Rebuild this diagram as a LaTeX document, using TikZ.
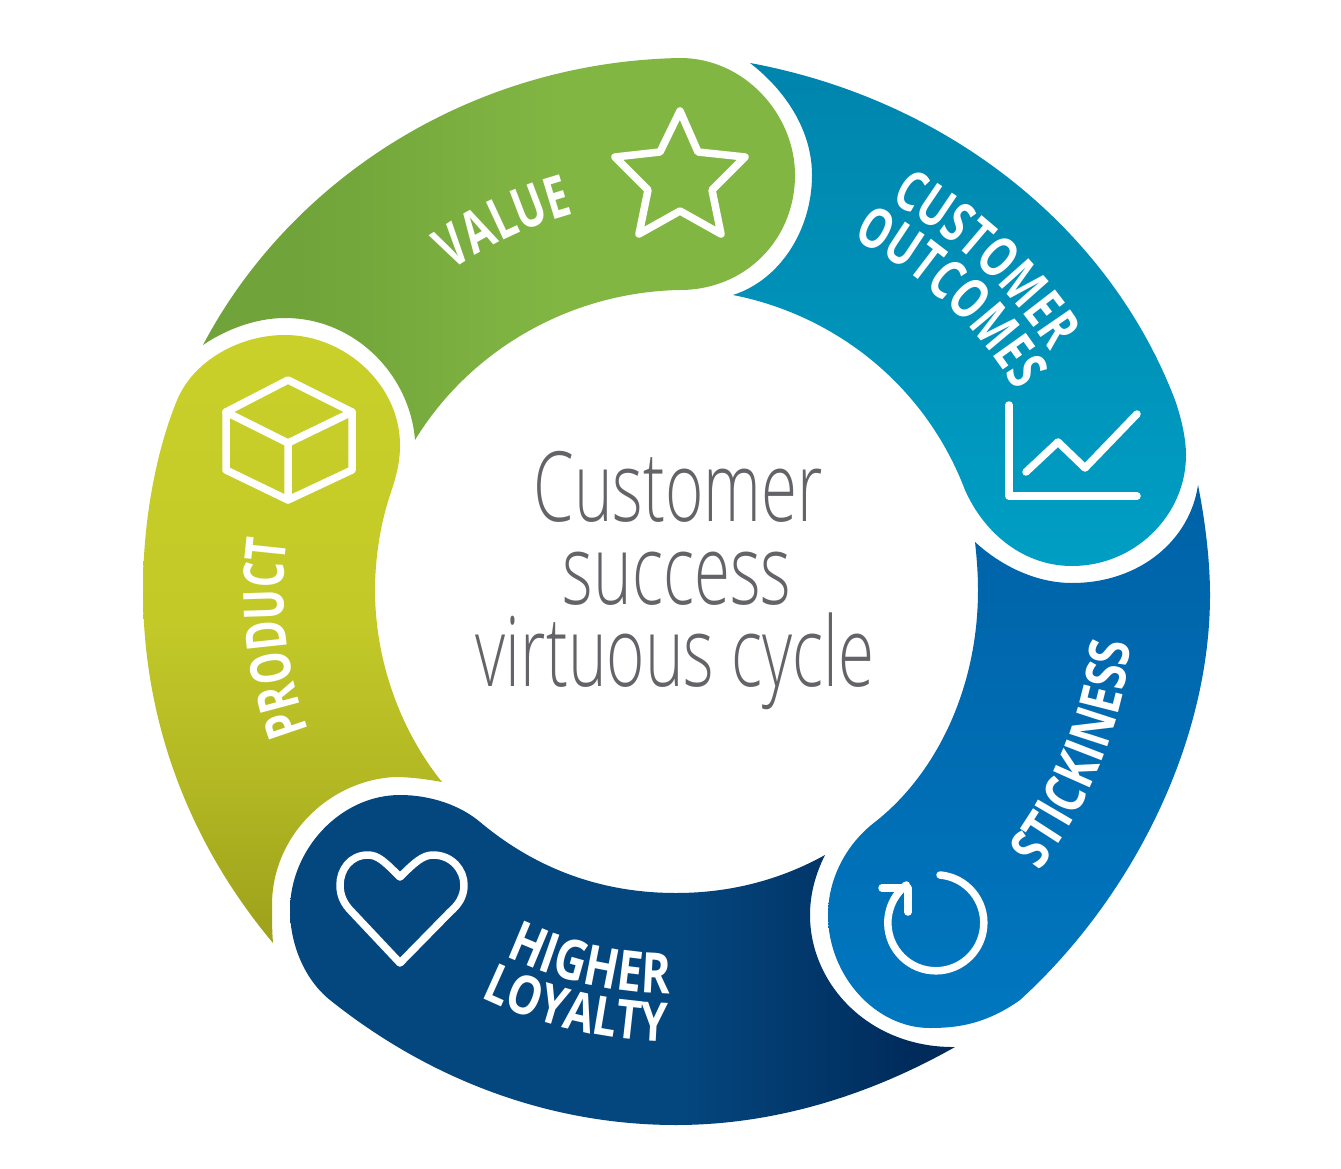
\documentclass[tikz,border=0pt]{standalone}
\usepackage{fontspec}
\usetikzlibrary{decorations.text}
\newfontfamily\ctrfont[FakeStretch=0.675]{Open Sans Light}
\newfontfamily\labfont[FakeStretch=0.72]{Open Sans}
\newfontfamily\labwide[FakeStretch=0.8]{Open Sans}
\definecolor{cvalA}{HTML}{70A339}\definecolor{cvalB}{HTML}{82B643}
\definecolor{cprodA}{HTML}{C9D029}\definecolor{cprodM}{HTML}{C3CA28}\definecolor{cprodN}{HTML}{B2B723}\definecolor{cprodB}{HTML}{9FA41C}
\definecolor{ccustA}{HTML}{0085AD}\definecolor{ccustB}{HTML}{009EC4}
\definecolor{cstickA}{HTML}{0062A7}\definecolor{cstickB}{HTML}{0077BF}
\definecolor{cloyA}{HTML}{04477F}\definecolor{cloyB}{HTML}{002B5B}
\definecolor{cctr}{HTML}{636368}
\pgfdeclarehorizontalshading{valshade}{100bp}{color(0bp)=(cvalA); color(33bp)=(cvalA); color(55bp)=(cvalB); color(100bp)=(cvalB)}
\pgfdeclarehorizontalshading{loyshade}{100bp}{color(0bp)=(cloyA); color(54bp)=(cloyA); color(72bp)=(cloyB); color(100bp)=(cloyB)}
\pgfdeclareverticalshading{prodshade}{100bp}{color(0bp)=(cprodB); color(27bp)=(cprodB); color(38bp)=(cprodN); color(52bp)=(cprodM); color(75bp)=(cprodA); color(100bp)=(cprodA)}
\tikzset{
  icon/.style={draw=white,line width=7.5pt,line join=round,line cap=round},
  centretext/.style={text=cctr,font=\ctrfont\fontsize{97}{97}\selectfont,inner sep=0pt,anchor=base}
}
\newcommand{\arclabel}[6]{% radius, from, to, size, text, family
  \path[decorate,decoration={text along path,text align=center,text color=white,
     text format delimiters={|}{|},text={|#6\bfseries\fontsize{#4}{#4}\selectfont|#5}}]
     (#2:#1pt) arc[start angle=#2,end angle=#3,radius=#1pt];}
\begin{document}
\begin{tikzpicture}[x=1pt,y=-1pt]
\useasboundingbox (0,0) rectangle (1341,1169);
\fill[white] (0,0) rectangle (1341,1169);
% Value
\shade[shading=valshade] (203,345) .. controls (290,180) and (470,62) .. (680,58)
  .. controls (745,58) and (795,115) .. (795,175) .. controls (795,240) and (745,290) .. (680,290)
  .. controls (570,292) and (470,350) .. (415,440)
  .. controls (410,375) and (355,318) .. (285,318) .. controls (255,318) and (225,330) .. (203,345) -- cycle;
% Customer outcomes
\shade[top color=ccustA,bottom color=ccustB] (750,63) .. controls (950,100) and (1110,230) .. (1175,400)
  .. controls (1182,420) and (1186,440) .. (1186,455) .. controls (1186,515) and (1135,566) .. (1072,566)
  .. controls (1025,566) and (985,535) .. (965,490)
  .. controls (925,385) and (835,315) .. (733,295)
  .. controls (780,280) and (812,230) .. (812,175) .. controls (812,130) and (785,90) .. (750,63) -- cycle;
% Stickiness
\shade[top color=cstickA,bottom color=cstickB] (1198,485) .. controls (1205,520) and (1210,560) .. (1210,595)
  .. controls (1210,745) and (1130,900) .. (1020,1000)
  .. controls (985,1025) and (955,1028) .. (930,1028) .. controls (875,1028) and (828,975) .. (828,915)
  .. controls (828,880) and (845,845) .. (875,822)
  .. controls (935,775) and (978,690) .. (978,590) .. controls (978,575) and (977,560) .. (975,542)
  .. controls (1000,565) and (1035,583) .. (1072,583) .. controls (1140,583) and (1190,540) .. (1198,485) -- cycle;
% Higher loyalty
\shade[shading=loyshade] (955,1047) .. controls (870,1095) and (775,1125) .. (676,1125)
  .. controls (550,1125) and (430,1080) .. (330,1000) .. controls (305,980) and (290,945) .. (290,910)
  .. controls (290,850) and (340,795) .. (400,795) .. controls (430,795) and (460,805) .. (480,822)
  .. controls (535,868) and (600,893) .. (676,893) .. controls (730,893) and (780,880) .. (825,855)
  .. controls (815,875) and (810,895) .. (810,915) .. controls (810,985) and (870,1048) .. (955,1047) -- cycle;
% Product
\shade[shading=prodshade] (273,943) .. controls (195,850) and (143,730) .. (143,590)
  .. controls (143,510) and (160,440) .. (178,398) .. controls (195,360) and (240,335) .. (285,335)
  .. controls (345,335) and (400,385) .. (400,445) .. controls (400,465) and (395,480) .. (390,495)
  .. controls (380,525) and (375,560) .. (375,590) .. controls (375,660) and (400,730) .. (442,782)
  .. controls (420,778) and (405,777) .. (395,777) .. controls (330,780) and (272,835) .. (272,905)
  .. controls (272,920) and (272,930) .. (273,943) -- cycle;
% Icons
\draw[icon] (680,111) -- (698,152) -- (745,157) -- (712,190) -- (721,234) -- (680,211) -- (639,234) -- (648,190) -- (615,157) -- (660,152) -- cycle;
\draw[icon] (288,380) -- (352,412) -- (352,470) -- (288,500) -- (226,470) -- (226,412) -- cycle;
\draw[icon] (226,412) -- (288,443) -- (352,412) (288,443) -- (288,500);
\draw[icon] (1009,405) -- (1009,496) -- (1137,496);
\draw[icon] (1026,472) -- (1058,442) -- (1085,468) -- (1137,414);
\draw[icon] (400,877) .. controls (385,862) and (378,855) .. (368,855) .. controls (350,855) and (340,870) .. (340,885)
  .. controls (340,897) and (345,905) .. (352,912) -- (400,963) -- (450,912)
  .. controls (458,905) and (464,897) .. (464,885) .. controls (464,870) and (452,855) .. (433,855)
  .. controls (423,855) and (415,862) .. (400,877) -- cycle;
\draw[icon] (882,888) -- (908,888) -- (908,912);
% Texts
\node[centretext] (t1) at (678,521) {Customer};
\node[centretext] (t2) at (677,604) {success};
\node[centretext] (t3) at (675,686) {virtuous cycle};
\begin{scope}[x=1pt,y=1pt,shift={(676pt,-592pt)}]
\draw[icon] (264,-283) arc[start angle=85,end angle=-232,radius=48pt];
\arclabel{392}{155}{75}{58}{VALUE}{\labfont}
\arclabel{445}{87}{7}{56}{CUSTOMER}{\labfont}
\arclabel{395}{92}{2}{56}{OUTCOMES}{\labfont}
\arclabel{458}{-62}{18}{56}{STICKINESS}{\labwide}
\arclabel{392}{226.5}{146.5}{56}{PRODUCT}{\labfont}
\arclabel{402}{-143}{-63}{56}{HIGHER}{\labwide}
\arclabel{450}{-143.5}{-63.5}{54}{LOYALTY}{\labwide}
\end{scope}
\end{tikzpicture}
\end{document}
